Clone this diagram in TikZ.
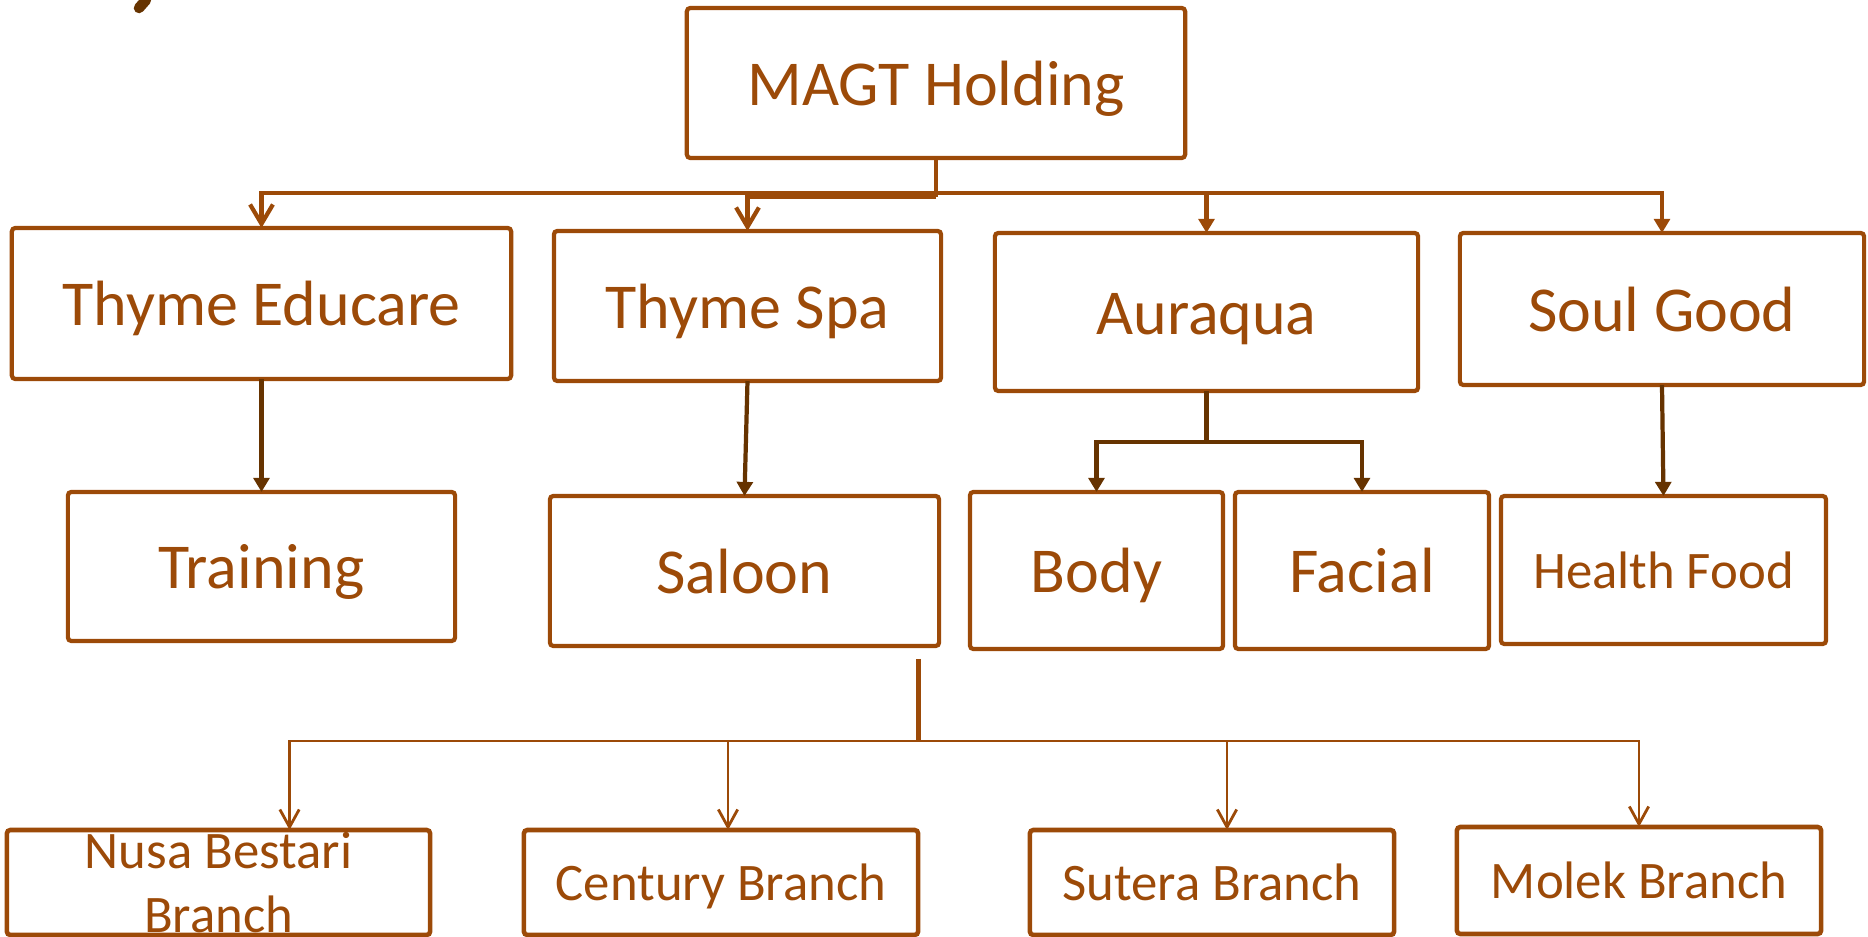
\documentclass[tikz,border=0pt]{standalone}
\usepackage{fontspec}
\setmainfont{Carlito}
\usetikzlibrary{arrows.meta}
\definecolor{rust}{RGB}{156,74,8}
\definecolor{bark}{RGB}{102,51,0}

\begin{document}
\begin{tikzpicture}[x=0.01cm,y=-0.01cm,
    box/.style={draw=rust,line width=1.2pt,rounded corners=1pt,text=rust,
      inner sep=0pt,outer sep=0pt,font=\fontsize{18.2}{22}\selectfont},
    rowtext/.style={text height=#1,text depth=0pt},
    small/.style={font=\fontsize{15}{18}\selectfont},
    link/.style={draw=rust,line width=1.2pt},
    openarr/.style={-{Straight Barb[length=5.5pt,width=6.5pt]}},
    fillarr/.style={-{Triangle[length=4pt,width=4.5pt]}},
    thinlink/.style={draw=rust,line width=0.8pt,-{Straight Barb[length=5pt,width=5.5pt]}}]

        \useasboundingbox (0,0) rectangle (1868,937);

        \begin{scope}[every node/.style={box,rowtext=12.6pt}]
          \node[minimum width=4.98cm,minimum height=1.50cm] (magt)     at (936,83)      {MAGT Holding};
          \node[minimum width=4.99cm,minimum height=1.51cm] (educare)  at (261.5,303.5) {Thyme Educare};
          \node[minimum width=3.87cm,minimum height=1.50cm] (spa)      at (747.5,306)   {Thyme Spa};
          \node[minimum width=4.23cm,minimum height=1.58cm] (auraqua)  at (1206.5,312)  {Auraqua};
          \node[minimum width=4.04cm,minimum height=1.52cm] (soulgood) at (1662,309)    {Soul Good};
          \node[minimum width=3.87cm,minimum height=1.49cm] (training) at (261.5,566.5) {Training};
          \node[minimum width=3.89cm,minimum height=1.50cm] (saloon)   at (744.5,571)   {Saloon};
          \node[minimum width=2.53cm,minimum height=1.57cm] (body)     at (1096.5,570.5) {Body};
          \node[minimum width=2.54cm,minimum height=1.57cm] (facial)   at (1362,570.5)  {Facial};
          \node[small,rowtext=10.5pt,minimum width=3.25cm,minimum height=1.48cm] (health) at (1663.5,570) {Health Food};
        \end{scope}

        \begin{scope}[every node/.style={box,small,line width=1.3pt}]
          \node[minimum width=4.23cm,minimum height=1.05cm,align=center] (nusa) at (218.5,882.5) {Nusa Bestari\\Branch};
          \node[rowtext=10.5pt,minimum width=3.94cm,minimum height=1.05cm] (century) at (721,882.5)  {Century Branch};
          \node[rowtext=10.5pt,minimum width=3.64cm,minimum height=1.05cm] (sutera)  at (1212,882.5) {Sutera Branch};
          \node[rowtext=10.5pt,minimum width=3.64cm,minimum height=1.07cm] (molek)   at (1639,880.5) {Molek Branch};
        \end{scope}

        \coordinate (fork)    at (936,193);
        \coordinate (forkspa) at (936,197);
        \coordinate (aurafork) at (1206.5,442);
        \coordinate (drop)    at (918.5,659);
        \coordinate (bus)     at (918.5,741);

        \draw[link] (magt.south) -- (forkspa);
        \draw[link,openarr] (fork) -| (educare.north);
        \draw[link,openarr] (forkspa) -| (spa.north);
        \draw[link,fillarr] (fork) -| (auraqua.north);
        \draw[link,fillarr] (fork) -| (soulgood.north);

        \draw[draw=bark,line width=1.2pt,fillarr] (educare.south) -- (training.north);
        \draw[draw=bark,line width=1.2pt,fillarr] (spa.south) -- (saloon.north);
        \draw[draw=bark,line width=1.2pt] (auraqua.south) -- (aurafork);
        \draw[draw=bark,line width=1.2pt,fillarr] (aurafork) -| (body.north);
        \draw[draw=bark,line width=1.2pt,fillarr] (aurafork) -| (facial.north);
        \draw[draw=bark,line width=1.2pt,fillarr] (soulgood.south) -- (health.north);

        \draw[link] (drop) -- (bus);
        \draw[thinlink] (bus) -| ([xshift=0.71cm]nusa.north);
        \draw[thinlink] (bus) -| ([xshift=0.07cm]century.north);
        \draw[thinlink] (bus) -| ([xshift=0.15cm]sutera.north);
        \draw[thinlink] (bus) -| (molek.north);

        \draw[bark,line width=3pt,line cap=round] (139,8) -- (146,0);

      \end{tikzpicture}
\end{document}
